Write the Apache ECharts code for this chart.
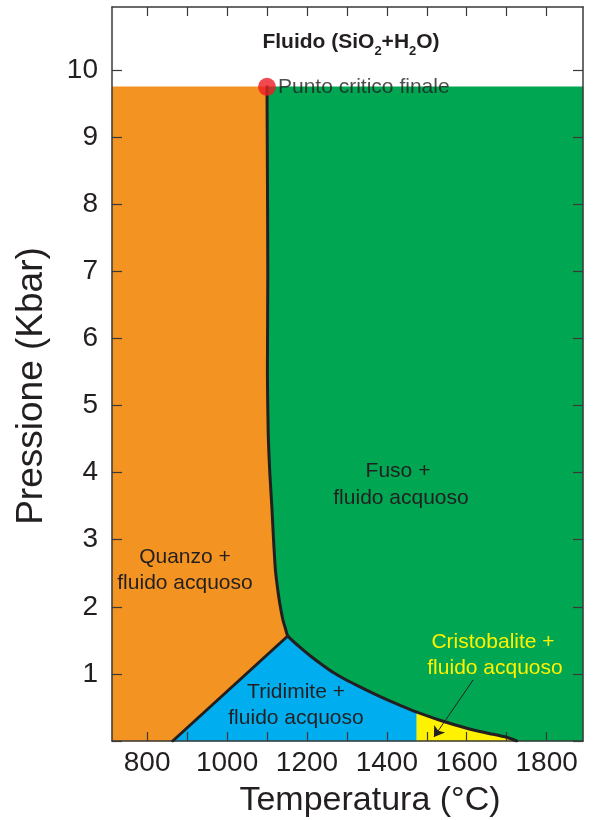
<!DOCTYPE html>
<html>
<head>
<meta charset="utf-8">
<script src="https://cdn.jsdelivr.net/npm/echarts@6/dist/echarts.min.js"></script>
<style>
  html, body { margin: 0; padding: 0; background: #ffffff; }
  #chart { width: 598px; height: 820px; }
</style>
</head>
<body>
<div id="chart"></div>
<script>
// Axis ticks and labels
const tempTicks = [800, 900, 1000, 1100, 1200, 1300, 1400, 1500, 1600, 1700, 1800];
const tempLabels = [800, 1000, 1200, 1400, 1600, 1800];
const pressTicks = [0, 1, 2, 3, 4, 5, 6, 7, 8, 9, 10];
const pressLabels = [1, 2, 3, 4, 5, 6, 7, 8, 9, 10];

// Critical end point [°C, kbar]
const criticalPoint = [1100, 9.75];

// Quartz / melt boundary, from the critical end point down to the invariant point
const quartzMeltCurve = [
  [1100, 9.75], [1101, 8.5], [1102, 7.0], [1101, 5.5], [1103, 4.6],
  [1107, 4.0], [1112, 3.5], [1116, 3.04], [1121, 2.55], [1127, 2.25],
  [1132, 2.05], [1140, 1.80], [1146, 1.68], [1152, 1.565]
];

// Silica polymorph / melt boundary, from the invariant point to the T axis
const polymorphMeltCurve = [
  [1152, 1.565], [1180, 1.41], [1208, 1.27], [1237, 1.14], [1266, 1.02],
  [1295, 0.92], [1325, 0.83], [1366, 0.71], [1410, 0.59], [1450, 0.49],
  [1475, 0.43], [1533, 0.31], [1600, 0.19], [1650, 0.12], [1700, 0.055],
  [1725, 0]
];

// Quartz / tridymite boundary
const quartzTridymiteLine = [[864, 0], [1152, 1.565]];

// Tridymite / cristobalite transition temperature
const tridymiteCristobaliteT = 1475;

// Pointer towards the cristobalite field
const cristobaliteArrow = [[1616, 0.91], [1518, 0.06]];

// Axis extent
const T_MIN = 712, T_MAX = 1891;
const P_MIN = 0, P_MAX = 10.94;

const FONT = '"Liberation Sans", Arial, sans-serif';
const INK = '#231f20';

// Phase fields built from the boundaries
const topP = criticalPoint[1];
const split = polymorphMeltCurve.findIndex(p => p[0] === tridymiteCristobaliteT);
const regions = [
  { color: '#00a651', pts: [...quartzMeltCurve, ...polymorphMeltCurve.slice(1), [T_MAX, 0], [T_MAX, topP]] },
  { color: '#f39322', pts: [[T_MIN, topP], ...quartzMeltCurve, quartzTridymiteLine[0], [T_MIN, 0]] },
  { color: '#00aeef', pts: [quartzTridymiteLine[0], ...polymorphMeltCurve.slice(0, split + 1), [tridymiteCristobaliteT, 0]] },
  { color: '#fff200', pts: [[tridymiteCristobaliteT, 0], ...polymorphMeltCurve.slice(split)] }
];

const chart = echarts.init(document.getElementById('chart'), null, { renderer: 'canvas' });

const axisLine = { show: true, onZero: false, lineStyle: { color: '#3a3a3a', width: 1.5 } };
const tickStyle = { color: '#3a3a3a', width: 1.2 };
const plain = v => String(v);

const option = {
  animation: false,
  backgroundColor: '#ffffff',
  grid: { left: 112, top: 7, right: 15, bottom: 79, containLabel: false, outerBoundsMode: 'none' },
  xAxis: [
    {
      type: 'value', position: 'bottom', min: T_MIN, max: T_MAX, z: 3,
      axisLine: axisLine,
      axisTick: { show: true, inside: true, length: 9, customValues: tempTicks, lineStyle: tickStyle },
      axisLabel: { show: true, customValues: tempLabels, formatter: plain, margin: 8, fontSize: 28, color: INK, fontFamily: FONT },
      splitLine: { show: false }
    },
    {
      type: 'value', position: 'top', min: T_MIN, max: T_MAX, z: 3,
      axisLine: axisLine,
      axisTick: { show: true, inside: true, length: 9, customValues: tempTicks, lineStyle: tickStyle },
      axisLabel: { show: false },
      splitLine: { show: false }
    }
  ],
  yAxis: [
    {
      type: 'value', position: 'left', min: P_MIN, max: P_MAX, z: 3,
      axisLine: axisLine,
      axisTick: { show: true, inside: true, length: 10, customValues: pressTicks, lineStyle: tickStyle },
      axisLabel: { show: true, customValues: pressLabels, formatter: plain, margin: 14, fontSize: 28, color: INK, fontFamily: FONT },
      splitLine: { show: false }
    },
    {
      type: 'value', position: 'right', min: P_MIN, max: P_MAX, z: 3,
      axisLine: axisLine,
      axisTick: { show: true, inside: true, length: 10, customValues: pressTicks, lineStyle: tickStyle },
      axisLabel: { show: false },
      splitLine: { show: false }
    }
  ],
  series: [
    {
      name: 'Campi', type: 'custom', z: 1, silent: true,
      xAxisIndex: 0, yAxisIndex: 0,
      data: regions.map(r => r.pts[0]),
      renderItem: (params, api) => {
        const r = regions[params.dataIndex];
        return {
          type: 'polygon',
          shape: { points: r.pts.map(p => api.coord(p)) },
          style: { fill: r.color, stroke: r.color, lineWidth: 0.5 }
        };
      }
    },
    {
      name: 'Curva di fusione', type: 'line', z: 4, silent: true,
      xAxisIndex: 0, yAxisIndex: 0,
      data: [...quartzMeltCurve, ...polymorphMeltCurve.slice(1)],
      showSymbol: false, symbol: 'none', smooth: 0.2,
      lineStyle: { color: INK, width: 3, join: 'round', cap: 'round' },
      markLine: {
        silent: true, animation: false,
        symbol: ['none', 'arrow'], symbolSize: 10,
        label: { show: false },
        lineStyle: { color: INK, width: 1, type: 'solid' },
        data: [[{ coord: cristobaliteArrow[0] }, { coord: cristobaliteArrow[1] }]]
      }
    },
    {
      name: 'Quarzo-tridimite', type: 'line', z: 4, silent: true,
      xAxisIndex: 0, yAxisIndex: 0,
      data: quartzTridymiteLine,
      showSymbol: false, symbol: 'none',
      lineStyle: { color: INK, width: 3, cap: 'round' }
    },
    {
      name: 'Punto critico', type: 'scatter', z: 5, silent: true,
      xAxisIndex: 0, yAxisIndex: 0,
      data: [criticalPoint],
      symbol: 'circle', symbolSize: 18,
      itemStyle: { color: '#ed1c24' },
      label: {
        show: true, position: 'right', distance: 2,
        formatter: 'Punto critico finale',
        fontSize: 21, color: INK, fontFamily: FONT
      }
    }
  ],
  graphic: [
    {
      type: 'text', x: 351, y: 42, z: 10, silent: true,
      style: {
        text: '{a|Fluido (SiO}{s|2}{a|+H}{s|2}{a|O)}',
        align: 'center', verticalAlign: 'middle',
        rich: {
          a: { fontSize: 21, fontWeight: 'bold', fontFamily: FONT, fill: INK, lineHeight: 32 },
          s: { fontSize: 13, fontWeight: 'bold', fontFamily: FONT, fill: INK, lineHeight: 12, verticalAlign: 'bottom' }
        }
      }
    },
    { type: 'text', x: 185, y: 557, z: 10, silent: true, style: { text: 'Quanzo +', align: 'center', verticalAlign: 'middle', fontSize: 21, fontFamily: FONT, fill: INK } },
    { type: 'text', x: 185, y: 583, z: 10, silent: true, style: { text: 'fluido acquoso', align: 'center', verticalAlign: 'middle', fontSize: 21, fontFamily: FONT, fill: INK } },
    { type: 'text', x: 398, y: 471, z: 10, silent: true, style: { text: 'Fuso +', align: 'center', verticalAlign: 'middle', fontSize: 21, fontFamily: FONT, fill: INK } },
    { type: 'text', x: 401, y: 498, z: 10, silent: true, style: { text: 'fluido acquoso', align: 'center', verticalAlign: 'middle', fontSize: 21, fontFamily: FONT, fill: INK } },
    { type: 'text', x: 296, y: 692, z: 10, silent: true, style: { text: 'Tridimite +', align: 'center', verticalAlign: 'middle', fontSize: 21, fontFamily: FONT, fill: INK } },
    { type: 'text', x: 296, y: 718, z: 10, silent: true, style: { text: 'fluido acquoso', align: 'center', verticalAlign: 'middle', fontSize: 21, fontFamily: FONT, fill: INK } },
    { type: 'text', x: 493, y: 642, z: 10, silent: true, style: { text: 'Cristobalite +', align: 'center', verticalAlign: 'middle', fontSize: 21, fontFamily: FONT, fill: '#fff200' } },
    { type: 'text', x: 495, y: 668, z: 10, silent: true, style: { text: 'fluido acquoso', align: 'center', verticalAlign: 'middle', fontSize: 21, fontFamily: FONT, fill: '#fff200' } },
    { type: 'text', x: 370, y: 801, z: 10, silent: true, style: { text: 'Temperatura (°C)', align: 'center', verticalAlign: 'middle', fontSize: 34, fontFamily: FONT, fill: INK } },
    { type: 'text', x: 32, y: 386, rotation: Math.PI / 2, z: 10, silent: true, style: { text: 'Pressione (Kbar)', align: 'center', verticalAlign: 'middle', fontSize: 37, fontFamily: FONT, fill: INK } }
  ]
};

chart.setOption(option);
</script>
</body>
</html>
